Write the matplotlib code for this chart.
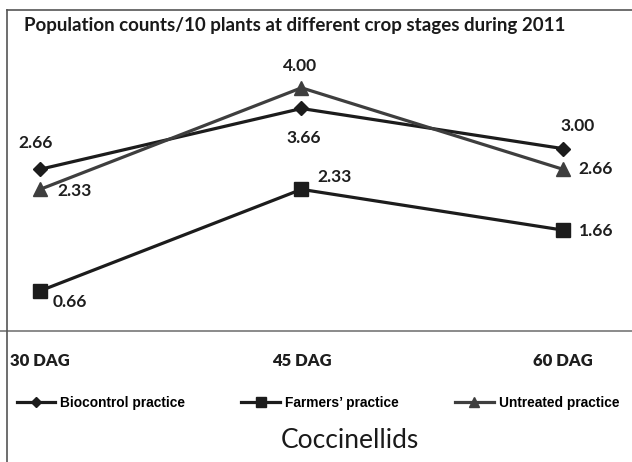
import matplotlib
matplotlib.use("Agg")
from matplotlib import pyplot as plt
from matplotlib.lines import Line2D

stages = ["30 DAG", "45 DAG", "60 DAG"]
biocontrol = [2.66, 3.66, 3.00]
farmers = [0.66, 2.33, 1.66]
untreated = [2.33, 4.00, 2.66]

# label offsets (pixels) for each point
off_bio = [(-4, 26), (2, -30), (15, 23)]
off_farm = [(30, -11), (33, 12), (33, -1)]
off_untr = [(35, -2), (-1, 22), (33, 0)]

DARK = "#1c1c1c"
GREY = "#3e3e3e"
SANS = ["Lato", "DejaVu Sans"]
NARROW = ["Liberation Sans", "DejaVu Sans"]

fig = plt.figure(figsize=(6.32, 4.62), dpi=100)
ax = fig.add_axes([0, 0.2835, 1, 0.658])

x = list(range(len(stages)))
ax.plot(x, biocontrol, color=DARK, lw=2.3, marker="D", ms=7, clip_on=False, zorder=3)
ax.plot(x, farmers, color=DARK, lw=2.3, marker="s", ms=9.5, clip_on=False, zorder=3)
ax.plot(x, untreated, color=GREY, lw=2.3, marker="^", ms=10, clip_on=False, zorder=3)

for vals, offs in [(biocontrol, off_bio), (farmers, off_farm), (untreated, off_untr)]:
    for xi, v, o in zip(x, vals, offs):
        ax.annotate(f"{v:.2f}", (xi, v), xytext=o, textcoords="offset pixels",
                    ha="center", va="center", fontsize=12.5, fontweight="bold",
                    family=SANS, color="#1e1e1e")

ax.set_xlim(-0.153, 2.264)
ax.set_ylim(0, 5)
ax.set_yticks([])
ax.set_xticks(x)
ax.set_xticklabels(stages, fontsize=12, fontweight="heavy", family=SANS, color="#1e1e1e")
ax.tick_params(axis="x", length=0, pad=16)
for s in ["top", "left", "right"]:
    ax.spines[s].set_visible(False)
ax.spines["bottom"].set_color("#777777")
ax.spines["bottom"].set_linewidth(1.2)
ax.patch.set_visible(False)

# outer frame (top and left only)
fx = 7 / 632
fy = 1 - 10 / 462
fig.add_artist(Line2D([fx, 1], [fy, fy], color="#555555", lw=1.2))
fig.add_artist(Line2D([fx, fx], [fy, 0], color="#555555", lw=1.2))

fig.text(24 / 632, 1 - 26 / 462, "Population counts/10 plants at different crop stages during 2011",
         ha="left", va="center", fontsize=13.5, fontweight="bold", family=SANS, color="#1a1a1a")

handles = [
    Line2D([], [], color=DARK, lw=2.3, marker="D", ms=5),
    Line2D([], [], color=DARK, lw=2.3, marker="s", ms=7),
    Line2D([], [], color=GREY, lw=2.3, marker="^", ms=7.5),
]
labels = ["Biocontrol practice", "Farmers\u2019 practice", "Untreated practice"]
fig.legend(handles, labels, loc="center", bbox_to_anchor=(0.503, 0.128), ncol=3,
           frameon=False, handlelength=2.8, handletextpad=0.37, columnspacing=4.1,
           prop={"family": NARROW, "weight": "bold", "size": 9.9})

fig.text(350 / 632, 1 - 441 / 462, "Coccinellids", ha="center", va="center",
         fontsize=19, family=SANS, color="#1a1a1a")

fig.savefig("out.png", dpi=100)
